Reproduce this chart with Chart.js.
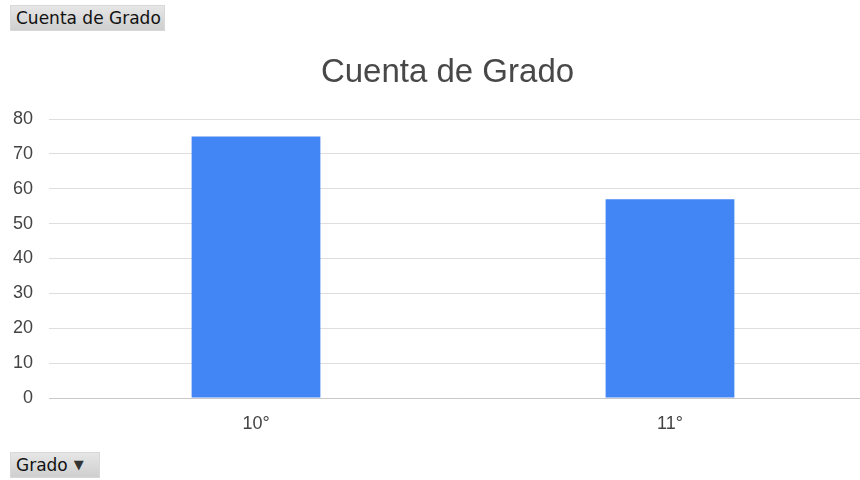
<!DOCTYPE html>
<html>
<head>
<meta charset="utf-8">
<script src="https://cdn.jsdelivr.net/npm/chart.js@4/dist/chart.umd.min.js"></script>
<style>
  html, body { margin: 0; padding: 0; background: #fff; width: 860px; height: 480px; overflow: hidden; position: relative; }
  .btn {
    position: absolute; box-sizing: border-box;
    font-family: "DejaVu Sans", sans-serif; font-size: 17px; color: #111;
    background: linear-gradient(#e6e6e6, #cfcfcf);
    border: 1px solid #d8d8d8;
    line-height: 24px; padding: 0 5px; white-space: nowrap;
  }
  #b1 { left: 10px; top: 5px; width: 155px; height: 26px; }
  #b2 { left: 10px; top: 452px; width: 90px; height: 26px; }
  #b2 .arr { font-size: 13px; color: #333; margin-left: 6px; position: relative; top: -2px; }
  #wrap { position: absolute; left: 0; top: 40px; width: 877px; height: 403px; }
</style>
</head>
<body>
<div class="btn" id="b1">Cuenta de Grado</div>
<div class="btn" id="b2">Grado<span class="arr">▼</span></div>
<div id="wrap"><canvas id="c"></canvas></div>
<script>
const categories = ["10°", "11°"];
const cuentaValues = [75, 57];
const yTicks = [0, 10, 20, 30, 40, 50, 60, 70, 80];
const chartTitle = "Cuenta de Grado";

const titleShift = {
  id: 'titleShift',
  afterLayout(chart) {
    const t = chart.titleBlock;
    if (t) { t.left = 18; }
  }
};

new Chart(document.getElementById('c'), {
  type: 'bar',
  data: {
    labels: categories,
    datasets: [{
      label: chartTitle,
      data: cuentaValues,
      backgroundColor: '#4285f4',
      borderWidth: 0,
      barPercentage: 0.311,
      categoryPercentage: 1.0
    }]
  },
  plugins: [titleShift],
  options: {
    responsive: true,
    maintainAspectRatio: false,
    animation: false,
    layout: { padding: 0 },
    plugins: {
      legend: { display: false },
      tooltip: { enabled: false },
      title: {
        display: true,
        text: chartTitle,
        color: '#484848',
        font: { family: 'Liberation Sans, Arial, sans-serif', size: 33, weight: 'normal' },
        padding: { top: 13, bottom: 26.4 }
      }
    },
    scales: {
      x: {
        grid: { display: false, drawTicks: false },
        border: { display: true, color: '#c8c8c8', width: 1 },
        ticks: { color: '#444', font: { family: 'Liberation Sans, Arial, sans-serif', size: 18 }, padding: 15 },
        afterFit: (s) => { s.height = 45; }
      },
      y: {
        min: 0, max: 80,
        afterBuildTicks: (s) => { s.ticks = yTicks.map(v => ({ value: v })); },
        grid: { color: '#dedede', lineWidth: 1, drawTicks: false },
        border: { display: false },
        ticks: { color: '#444', font: { family: 'Liberation Sans, Arial, sans-serif', size: 18 }, padding: 16 },
        afterFit: (s) => { s.width = 49; }
      }
    }
  }
});
</script>
</body>
</html>
